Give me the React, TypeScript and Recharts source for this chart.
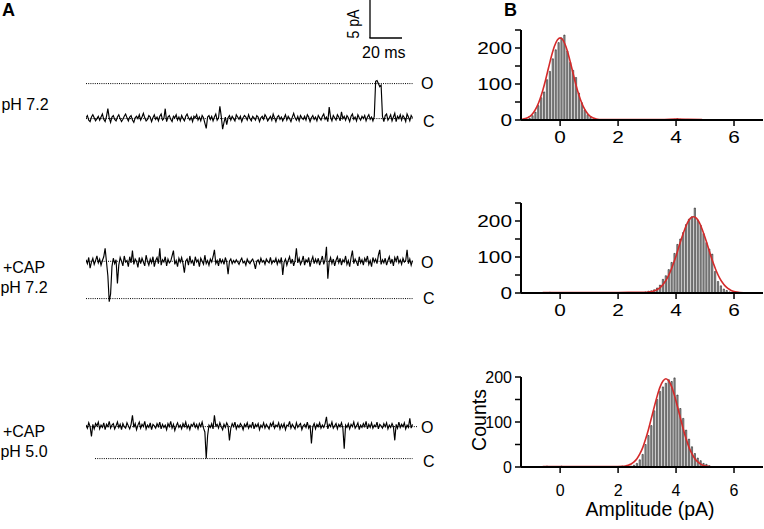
import React from "react";
import { LineChart, Line, XAxis, YAxis, ReferenceLine, ComposedChart, Bar } from "recharts";

const FONT = "'Liberation Sans', Arial, Helvetica, sans-serif";

// Panel A: single-channel current traces (pA), one sample every ~1.37 px
const trace1 = [
  0.1, 0.4, -0.2, -0.4, 0.2, 0.5, 0.1, -0.3, 0.0, 0.3,
  -0.2, 0.2, 0.6, -0.1, -0.4, 0.3, 1.3, 0.1, -0.5, 0.2,
  0.4, -0.1, -0.3, 0.2, 0.5, 0.0, -0.4, -0.1, 0.3, 0.6,
  0.1, -0.3, 0.2, 0.4, -0.2, -0.5, 0.1, 0.3, 0.0, 0.5,
  -0.2, 0.2, 0.7, 0.1, -0.3, -0.1, 0.4, 0.2, -0.4, 0.1,
  0.5, -0.1, 0.2, -0.3, 0.3, 0.6, -0.2, 0.0, 1.3, -0.4,
  0.2, 0.4, -0.1, -0.4, 0.3, 0.1, 0.5, -0.2, 0.2, -0.3,
  0.4, 0.0, -0.3, 0.3, 0.6, 0.1, -0.2, 0.2, -0.4, 0.3,
  0.1, 0.5, -0.2, 0.2, -0.3, 0.4, 0.1, -0.6, -1.3, 0.2,
  0.4, -0.1, 0.3, -0.3, 0.2, 0.6, -0.2, 0.1, 1.6, 0.3,
  -1.4, -0.5, 0.2, -0.8, 0.1, 0.4, -0.2, 0.3, 0.0, -0.3,
  0.5, 0.2, -0.1, 0.3, -0.4, 0.1, 0.4, 0.2, -0.2, 0.5,
  0.0, -0.3, 0.3, 0.1, -0.2, 0.4, 0.2, -0.4, 0.1, 0.3,
  -0.1, 0.5, 0.2, -0.3, 0.0, 0.3, -0.2, 0.6, 0.1, -0.4,
  0.2, 0.4, -0.1, 0.2, -0.3, 0.1, 0.5, -0.2, 0.3, 0.0,
  -0.4, 0.2, 0.7, 0.1, -0.2, 0.3, -0.3, 0.4, 0.1, -0.1,
  0.3, -0.2, 0.5, 0.2, -0.4, 0.1, 0.4, -0.1, 0.2, -0.3,
  0.4, 0.1, -0.2, 0.3, 0.6, -0.1, 0.2, -0.4, 1.5, 0.2,
  -0.3, 0.4, 0.1, -0.2, 0.5, 0.2, -0.3, 0.9, 0.0, 0.3,
  -0.2, 0.4, 0.1, -0.4, 0.3, 0.6, -0.1, 0.2, -0.3, 0.5,
  0.1, -0.2, 0.3, 0.0, 0.4, -0.3, 0.2, 0.5, -0.1, 0.2,
  -0.3, 0.3, 4.9, 5.0, 4.6, 4.2, 4.4, 0.3, -0.4, 0.4,
  0.6, -0.2, 0.1, 0.5, -0.3, 0.2, 0.7, -0.4, 0.3, 0.0,
  0.5, -0.2, 0.4, 0.1, -0.4, 0.6, 0.2, -0.3, 0.4, 0.1,
];
const trace2 = [
  5.1, 4.6, 5.4, 4.0, 4.8, 5.3, 4.5, 5.0, 5.6, 4.7,
  5.2, 4.4, 5.0, 5.5, 6.6, 4.8, 3.0, -0.4, 0.6, 4.2,
  5.3, 4.6, 5.1, 2.0, 4.4, 5.4, 4.9, 4.3, 5.6, 4.8,
  5.0, 4.2, 5.5, 4.7, 6.3, 4.5, 5.2, 4.9, 4.1, 5.4,
  4.6, 5.3, 4.8, 4.3, 5.7, 4.9, 4.4, 5.2, 4.7, 5.5,
  4.2, 5.0, 5.4, 4.6, 6.6, 4.4, 5.1, 4.8, 5.5, 4.3,
  5.2, 4.7, 4.9, 5.6, 6.3, 4.5, 5.0, 4.2, 5.3, 4.8,
  5.4, 4.6, 3.4, 4.9, 5.2, 4.4, 5.6, 4.7, 5.0, 4.3,
  5.5, 4.8, 5.1, 4.2, 5.3, 4.9, 4.5, 5.7, 4.6, 5.0,
  4.4, 5.2, 4.8, 5.5, 6.4, 4.6, 5.0, 4.3, 5.3, 4.7,
  5.1, 4.5, 5.4, 4.8, 3.2, 4.9, 5.2, 4.6, 5.0, 4.7,
  5.1, 4.8, 4.5, 5.0, 5.3, 4.7, 4.9, 4.4, 5.2, 4.8,
  4.6, 5.0, 5.2, 4.7, 3.9, 4.9, 5.1, 4.6, 5.3, 4.8,
  5.0, 4.5, 5.2, 4.9, 4.7, 5.4, 4.6, 5.0, 4.8, 5.3,
  4.5, 5.1, 4.7, 5.4, 3.1, 4.8, 5.2, 4.4, 5.0, 5.5,
  4.6, 5.2, 4.3, 5.0, 6.6, 4.7, 5.3, 4.5, 4.9, 5.6,
  4.4, 5.1, 4.8, 5.4, 4.2, 5.0, 5.5, 4.6, 5.2, 4.7,
  5.3, 4.4, 5.0, 5.6, 4.5, 5.1, 6.8, 2.6, 4.8, 5.4,
  4.6, 5.2, 4.3, 5.0, 5.5, 4.7, 5.3, 4.4, 5.1, 4.8,
  5.6, 4.5, 5.0, 4.2, 5.4, 6.3, 4.6, 5.2, 4.8, 4.3,
  5.5, 4.7, 5.1, 4.4, 5.3, 4.9, 5.6, 4.5, 5.0, 4.2,
  5.4, 4.8, 5.2, 4.6, 5.7, 6.4, 4.5, 5.1, 4.7, 5.3,
  4.4, 5.0, 5.5, 4.6, 5.2, 4.3, 5.4, 4.9, 5.6, 4.7,
  5.1, 4.5, 5.3, 4.8, 5.0, 6.4, 4.6, 5.2, 4.4, 5.0,
];
const trace3 = [
  4.4, 4.0, 4.7, 4.2, 2.9, 4.5, 3.9, 4.6, 4.3, 4.8,
  3.9, 4.4, 4.1, 4.7, 3.8, 4.5, 4.2, 4.9, 4.0, 4.4,
  4.6, 3.9, 4.3, 4.8, 4.1, 4.5, 3.8, 4.6, 4.2, 4.0,
  4.7, 4.3, 3.9, 4.5, 5.7, 4.1, 4.6, 3.8, 4.4, 4.8,
  4.0, 4.5, 4.2, 4.9, 3.9, 4.4, 4.1, 4.7, 3.8, 4.5,
  4.3, 4.0, 4.6, 4.2, 4.8, 3.9, 4.5, 4.1, 4.4, 3.8,
  4.6, 4.2, 4.9, 4.0, 4.5, 3.7, 4.3, 4.7, 4.1, 4.4,
  3.9, 4.6, 4.2, 4.8, 4.0, 4.4, 3.8, 4.5, 4.3, 4.7,
  4.1, 4.5, 3.9, 4.6, 4.2, 4.8, 4.0, 3.5, 0.0, 3.0,
  4.4, 4.1, 4.6, 3.9, 5.7, 4.3, 4.5, 4.0, 4.7, 4.2,
  3.8, 4.5, 4.1, 4.7, 4.3, 2.4, 4.0, 4.6, 4.2, 4.8,
  3.9, 4.4, 4.1, 4.6, 4.3, 3.8, 4.5, 4.2, 4.7, 4.0,
  4.4, 4.1, 4.8, 3.9, 4.5, 4.2, 4.6, 3.8, 4.4, 4.1,
  4.7, 4.0, 4.5, 4.2, 3.9, 4.6, 4.3, 4.8, 4.0, 4.4,
  4.2, 4.7, 3.9, 4.5, 4.1, 4.6, 3.8, 4.4, 4.3, 4.9,
  4.0, 4.5, 4.2, 3.9, 4.7, 4.1, 4.4, 4.6, 3.8, 4.3,
  4.5, 4.1, 4.8, 4.0, 4.4, 2.0, 4.2, 4.6, 3.9, 4.5,
  4.2, 4.7, 4.0, 4.4, 4.1, 4.6, 5.5, 3.9, 4.5, 4.2,
  4.8, 4.0, 4.3, 4.6, 3.9, 4.5, 4.2, 4.7, 4.0, 1.3,
  4.4, 4.1, 4.6, 3.9, 4.5, 4.2, 4.8, 4.0, 4.3, 4.7,
  3.8, 4.4, 4.1, 4.6, 4.2, 4.9, 3.9, 4.5, 4.1, 4.7,
  4.0, 4.4, 4.2, 4.8, 3.9, 4.5, 4.3, 4.0, 4.6, 4.2,
  4.7, 3.9, 4.4, 4.1, 4.6, 4.2, 2.4, 4.5, 4.0, 4.8,
  4.1, 4.5, 4.2, 4.7, 3.9, 4.4, 4.1, 5.3, 4.0, 4.5,
];

// open current level (pA) per trace; closed level is 0
const openLevels = [4.6, 4.9, 4.2];

// Panel B: amplitude histograms (bin centres in pA, counts)
const hist1Centers = [
  -1.15, -1.05, -0.95, -0.85, -0.75, -0.65, -0.55, -0.45, -0.35, -0.25,
  -0.15, -0.05, 0.05, 0.15, 0.25, 0.35, 0.45, 0.55, 0.65, 0.75,
  0.85, 0.95, 1.05, 1.15, 3.95, 4.05, 4.15,
];
const hist1Counts = [
  2, 5, 12, 22, 40, 62, 78, 112, 135, 170,
  195, 215, 228, 236, 192, 160, 138, 118, 75, 48,
  28, 15, 7, 3, 2, 4, 2,
];
const fit1X = [
  -1.4, -1.3, -1.2, -1.1, -1.0, -0.9, -0.8, -0.7, -0.6, -0.5,
  -0.4, -0.3, -0.2, -0.1, 0.0, 0.1, 0.2, 0.3, 0.4, 0.5,
  0.6, 0.7, 0.8, 0.9, 1.0, 1.1, 1.2, 1.3, 1.4, 1.6,
  2.0, 3.0, 3.6, 4.0, 4.4, 4.9,
];
const fit1Y = [
  0.9, 1.9, 3.9, 7.4, 13, 23, 37, 57, 82, 112,
  145, 177, 204, 222, 228, 222, 204, 177, 145, 112,
  82, 57, 37, 23, 13, 7.4, 3.9, 1.9, 1.2, 1,
  1, 1, 1.5, 2.5, 2, 1,
];

const hist2Centers = [
  -0.35, 2.95, 3.05, 3.15, 3.25, 3.35, 3.45, 3.55, 3.65, 3.75,
  3.85, 3.95, 4.05, 4.15, 4.25, 4.35, 4.45, 4.55, 4.65, 4.75,
  4.85, 4.95, 5.05, 5.15, 5.25, 5.35, 5.45, 5.55, 5.65, 5.75,
  5.85, 5.95,
];
const hist2Counts = [
  2, 3, 5, 6, 9, 14, 22, 38, 48, 65,
  85, 110, 135, 150, 168, 190, 205, 212, 236, 202,
  188, 165, 140, 122, 108, 60, 32, 20, 11, 7,
  3, 2,
];
const fit2X = [
  -0.6, 0, 1, 2, 2.6, 3.0, 3.1, 3.2, 3.3, 3.4,
  3.5, 3.6, 3.7, 3.8, 3.9, 4.0, 4.1, 4.2, 4.3, 4.4,
  4.5, 4.6, 4.7, 4.8, 4.9, 5.0, 5.1, 5.2, 5.3, 5.4,
  5.5, 5.6, 5.7, 5.8, 5.9, 6.0, 6.1, 6.2, 6.5,
];
const fit2Y = [
  1.5, 1.5, 1.5, 1.5, 1.8, 2.2, 3.2, 4.8, 7.5, 12,
  19, 29, 42, 59, 80, 103, 129, 154, 177, 196,
  208, 212, 208, 196, 177, 154, 129, 103, 80, 59,
  42, 29, 19, 12, 7.2, 4.2, 2.4, 1.3, 0.4,
];

const hist3Centers = [
  -0.45, 0.05, 2.15, 2.45, 2.55, 2.65, 2.75, 2.85, 2.95, 3.05,
  3.15, 3.25, 3.35, 3.45, 3.55, 3.65, 3.75, 3.85, 3.95, 4.05,
  4.15, 4.25, 4.35, 4.45, 4.55, 4.65, 4.75, 4.85, 4.95, 5.05,
  5.15, 5.25,
];
const hist3Counts = [
  2, 2, 2, 2, 4, 8, 16, 28, 50, 70,
  92, 125, 150, 168, 178, 186, 194, 190, 198, 160,
  130, 108, 82, 62, 45, 30, 20, 14, 8, 6,
  3, 1,
];
const fit3X = [
  -0.6, 0, 1, 1.8, 2.15, 2.25, 2.35, 2.45, 2.55, 2.65,
  2.75, 2.85, 2.95, 3.05, 3.15, 3.25, 3.35, 3.45, 3.55, 3.65,
  3.75, 3.85, 3.95, 4.05, 4.15, 4.25, 4.35, 4.45, 4.55, 4.65,
  4.75, 4.85, 4.95, 5.05, 5.15, 5.25, 5.5,
];
const fit3Y = [
  1, 1, 1, 1, 1.4, 2.2, 3.8, 6.6, 11.2, 18.4,
  29, 43, 62, 84, 109, 134, 158, 178, 191, 196,
  191, 178, 158, 134, 109, 84, 62, 43, 29, 18.4,
  11.2, 6.5, 3.6, 1.9, 1.0, 0.5, 0.3,
];

const xTicks = [0, 2, 4, 6];
const yTicks250 = [0, 50, 100, 150, 200, 250];
const yTicks200 = [0, 50, 100, 150, 200];

function Trace({ values, top, open, cFrom = 0, oTo = 239 }) {
  const data = values.map((v, i) => ({ i, v }));
  return (
    <div style={{ position: "absolute", left: 86, top, width: 332, height: 70 }}>
      <LineChart width={332} height={70} data={data} margin={{ top: 0, right: 0, bottom: 0, left: 0 }}>
        <XAxis dataKey="i" type="number" domain={[0, 243]} hide />
        <YAxis type="number" domain={[-1.5, 7.7]} hide allowDataOverflow />
        <ReferenceLine
          segment={[{ x: 0, y: open }, { x: oTo, y: open }]}
          stroke="#000"
          strokeWidth={1}
          strokeDasharray="1 1.2"
        />
        <ReferenceLine
          segment={[{ x: cFrom, y: 0 }, { x: 239, y: 0 }]}
          stroke="#000"
          strokeWidth={1}
          strokeDasharray="1 1.2"
        />
        <Line
          dataKey="v"
          type="linear"
          stroke="#000"
          strokeWidth={1.15}
          dot={false}
          isAnimationActive={false}
        />
      </LineChart>
    </div>
  );
}

function Hist({ centers, counts, fitX, fitY, top, yMax, yTicks, sx, xGap }) {
  const bars = centers.map((c, i) => ({ x: c, n: counts[i] }));
  const fit = fitX.map((x, i) => ({ x, y: fitY[i] }));
  return (
    <div style={{ position: "absolute", left: 440, top, width: 324, height: 140 }}>
      <ComposedChart width={324} height={140} data={bars} margin={{ top: 10, right: 1, bottom: 0, left: 31 }}>
        <XAxis
          dataKey="x"
          type="number"
          domain={[-1.35, 7]}
          allowDataOverflow
          ticks={xTicks}
          interval={0}
          height={40}
          tickSize={6}
          tickMargin={xGap}
          axisLine={{ stroke: "#000", strokeWidth: 2 }}
          tickLine={{ stroke: "#000", strokeWidth: 1.5 }}
          tick={(p) => (
            <g transform={`translate(${p.x},${p.y}) scale(${sx},1)`}>
              <text x={0} y={0} dy="0.71em" textAnchor="middle" fontSize={16} fontFamily={FONT} fill="#000">
                {p.payload.value}
              </text>
            </g>
          )}
        />
        <YAxis
          type="number"
          domain={[0, yMax]}
          ticks={yTicks}
          interval={0}
          width={50}
          tickSize={6}
          tickMargin={3}
          axisLine={{ stroke: "#000", strokeWidth: 2 }}
          tickLine={{ stroke: "#000", strokeWidth: 1.5 }}
          tick={(p) =>
            p.payload.value % 100 === 0 ? (
              <g transform={`translate(${p.x},${p.y}) scale(${sx},1)`}>
                <text x={0} y={0} dy="0.36em" textAnchor="end" fontSize={16} fontFamily={FONT} fill="#000">
                  {p.payload.value}
                </text>
              </g>
            ) : (
              <g />
            )
          }
        />
        <Bar dataKey="n" fill="#a8a8a8" stroke="#000" strokeWidth={0.5} barSize={3} isAnimationActive={false} />
        <Line
          data={fit}
          dataKey="y"
          type="monotone"
          stroke="#d42a2a"
          strokeWidth={1.6}
          dot={false}
          isAnimationActive={false}
        />
      </ComposedChart>
    </div>
  );
}

export default function App() {
  return (
    <div
      style={{
        position: "absolute",
        left: 0,
        top: 0,
        width: 764,
        height: 529,
        background: "#fff",
        fontFamily: FONT,
        overflow: "hidden",
      }}
    >
      <Trace values={trace1} top={60} open={openLevels[0]} />
      <Trace values={trace2} top={240} open={openLevels[1]} />
      <Trace values={trace3} top={400} open={openLevels[2]} cFrom={6.6} oTo={243} />

      <Hist
        centers={hist1Centers}
        counts={hist1Counts}
        fitX={fit1X}
        fitY={fit1Y}
        top={20}
        yMax={250}
        yTicks={yTicks250}
        sx={1.3}
        xGap={6}
      />
      <Hist
        centers={hist2Centers}
        counts={hist2Counts}
        fitX={fit2X}
        fitY={fit2Y}
        top={193}
        yMax={250}
        yTicks={yTicks250}
        sx={1.3}
        xGap={6}
      />
      <Hist
        centers={hist3Centers}
        counts={hist3Counts}
        fitX={fit3X}
        fitY={fit3Y}
        top={367}
        yMax={200}
        yTicks={yTicks200}
        sx={1}
        xGap={12}
      />

      <svg
        width={764}
        height={529}
        style={{ position: "absolute", left: 0, top: 0, pointerEvents: "none" }}
        fontFamily={FONT}
      >
        <text x={2} y={16} fontSize={18} fontWeight="bold">A</text>
        <text x={504} y={16} fontSize={18} fontWeight="bold">B</text>

        {/* scale bar */}
        <line x1={370} y1={0} x2={370} y2={38} stroke="#000" strokeWidth={1.3} />
        <line x1={369.4} y1={38} x2={402} y2={38} stroke="#000" strokeWidth={1.3} />
        <text
          transform="translate(359,24) rotate(-90)"
          textAnchor="middle"
          fontSize={17}
          textLength={29}
          lengthAdjust="spacingAndGlyphs"
        >
          5 pA
        </text>
        <text x={362} y={58} fontSize={16}>20 ms</text>

        {/* trace labels */}
        <text x={25} y={110} fontSize={16} textAnchor="middle">pH 7.2</text>
        <text x={24} y={273} fontSize={16} textAnchor="middle">+CAP</text>
        <text x={24} y={293} fontSize={16} textAnchor="middle">pH 7.2</text>
        <text x={24} y={437} fontSize={16} textAnchor="middle">+CAP</text>
        <text x={24} y={457} fontSize={16} textAnchor="middle">pH 5.0</text>

        <text x={421} y={89} fontSize={16}>O</text>
        <text x={423} y={127} fontSize={16}>C</text>
        <text x={421} y={268} fontSize={16}>O</text>
        <text x={423} y={304} fontSize={16}>C</text>
        <text x={421} y={433} fontSize={16}>O</text>
        <text x={423} y={467} fontSize={16}>C</text>

        {/* histogram axis titles */}
        <text transform="translate(486,420) rotate(-90)" textAnchor="middle" fontSize={19.5}>Counts</text>
        <text x={650} y={516} textAnchor="middle" fontSize={19.5}>Amplitude (pA)</text>
      </svg>
    </div>
  );
}
